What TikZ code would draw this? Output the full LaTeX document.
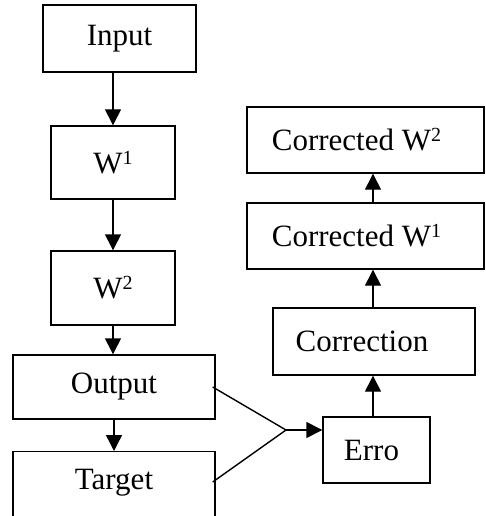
\documentclass[tikz,border=0pt]{standalone}
\usepackage{fontspec}
\setmainfont{Liberation Serif}
\usetikzlibrary{arrows.meta}
% raised superscript digit for the weight labels
\newcommand\wsup[1]{\raisebox{9pt}{\fontsize{20}{24}\selectfont #1}}
\begin{document}
\begin{tikzpicture}[x=1pt,y=-1pt,
  box/.style={draw, line width=1.4pt, inner sep=0pt, font=\fontsize{31}{37}\selectfont},
  every label/.style={font=\fontsize{31}{37}\selectfont, inner sep=0pt},
  flow/.style={line width=1.4pt, -{Triangle[length=16pt,width=16pt]}},
  link/.style={line width=1.4pt}]
\useasboundingbox (0,0) rectangle (486,516);
\clip (0,0) rectangle (486,516);

% forward pass column
\node[box, minimum width=153pt, minimum height=67pt] (input) at (119.5,38.5) {Input};
\node[box, minimum width=124pt, minimum height=73pt] (w1) at (113,162.5) {W\wsup{1}};
\node[box, minimum width=124pt, minimum height=74pt] (w2) at (113,288) {W\wsup{2}};
\node[box, minimum width=202pt, minimum height=64pt] (output) at (114,387) {Output};
\node[box, minimum width=202pt, minimum height=80pt, anchor=north,
      label={[yshift=9pt]center:Target}] (target) at (114,451) {};

% correction column
\node[box, minimum width=107pt, minimum height=66pt,
      label={[xshift=-5pt]center:Erro}] (erro) at (376.5,450) {};
\node[box, minimum width=202pt, minimum height=67pt,
      label={[xshift=-12pt]center:Correction}] (corr) at (374,341.5) {};
\node[box, minimum width=237pt, minimum height=66pt,
      label={[xshift=-9pt]center:Corrected W\wsup{1}}] (cw1) at (365.5,236) {};
\node[box, minimum width=237pt, minimum height=66pt,
      label={[xshift=-9pt]center:Corrected W\wsup{2}}] (cw2) at (365.5,140) {};

% forward arrows
\draw[flow] (input.south -| w1.north) -- (w1.north);
\draw[flow] (w1.south) -- (w2.north);
\draw[flow] (w2.south) -- (w2.south |- output.north);
\draw[flow] (output.south) -- (target.north);

% output and target merge into the error
\coordinate (j) at (286,430);
\draw[link] ([xshift=-3pt]output.east) -- (j);
\draw[link] ([xshift=-3pt,yshift=-31pt]target.north east) -- (j);
\draw[flow] (j) -- (j -| erro.west);

% correction arrows
\draw[flow] ([xshift=-3.5pt]erro.north) -- ([xshift=-3.5pt]erro.north |- corr.south);
\draw[flow] ([xshift=-1pt]corr.north) -- ([xshift=-1pt]corr.north |- cw1.south);
\draw[flow] ([xshift=7.5pt]cw1.north) -- ([xshift=7.5pt]cw1.north |- cw2.south);
\end{tikzpicture}
\end{document}
